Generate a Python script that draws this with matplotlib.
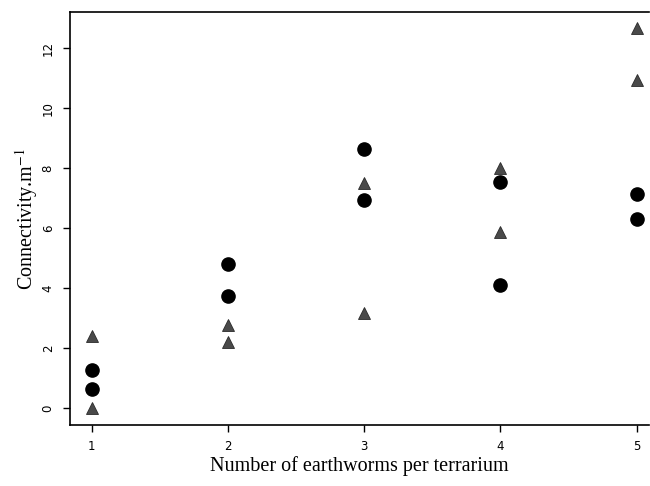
import matplotlib
matplotlib.use('Agg')
from matplotlib import pyplot as plt

plt.rcParams['mathtext.fontset'] = 'stix'

# Number of earthworms per terrarium
worms_circ = [1, 1, 2, 2, 3, 3, 4, 4, 5, 5]
conn_circ = [1.27, 0.63, 4.8, 3.73, 8.63, 6.93, 7.53, 4.1, 7.13, 6.3]

worms_tri = [1, 1, 2, 2, 3, 3, 4, 4, 5, 5]
conn_tri = [2.4, 0.0, 2.77, 2.2, 7.5, 3.17, 8.0, 5.87, 12.67, 10.93]

x_ticks = [1, 2, 3, 4, 5]
y_ticks = [0, 2, 4, 6, 8, 10, 12]

fig = plt.figure(figsize=(6.5, 4.86), dpi=100)
ax = fig.add_axes([0.1077, 0.1255, 0.8905, 0.8495])

ax.plot(worms_tri, conn_tri, linestyle='none', marker='^', markersize=8,
        color='#4a4a4a', markeredgecolor='#2a2a2a', markeredgewidth=0.6)
ax.plot(worms_circ, conn_circ, linestyle='none', marker='o', markersize=9.5,
        color='black')

ax.set_xlim(0.84, 5.09)
ax.set_ylim(-0.57, 13.2)
ax.set_xticks(x_ticks)
ax.set_yticks(y_ticks)
ax.tick_params(labelsize=8.5, length=5, width=1, pad=6)
for lab in ax.get_yticklabels():
    lab.set_rotation(90)
    lab.set_va('center')
for s in ax.spines.values():
    s.set_linewidth(1.2)
ax.spines['right'].set_visible(False)

ax.set_xlabel('Number of earthworms per terrarium', family='Liberation Serif',
              fontsize=14.5, labelpad=2)
ax.set_ylabel('Connectivity.m$^{-1}$', family='Liberation Serif',
              fontsize=14.5, labelpad=1)

fig.savefig('out.png', dpi=100)
